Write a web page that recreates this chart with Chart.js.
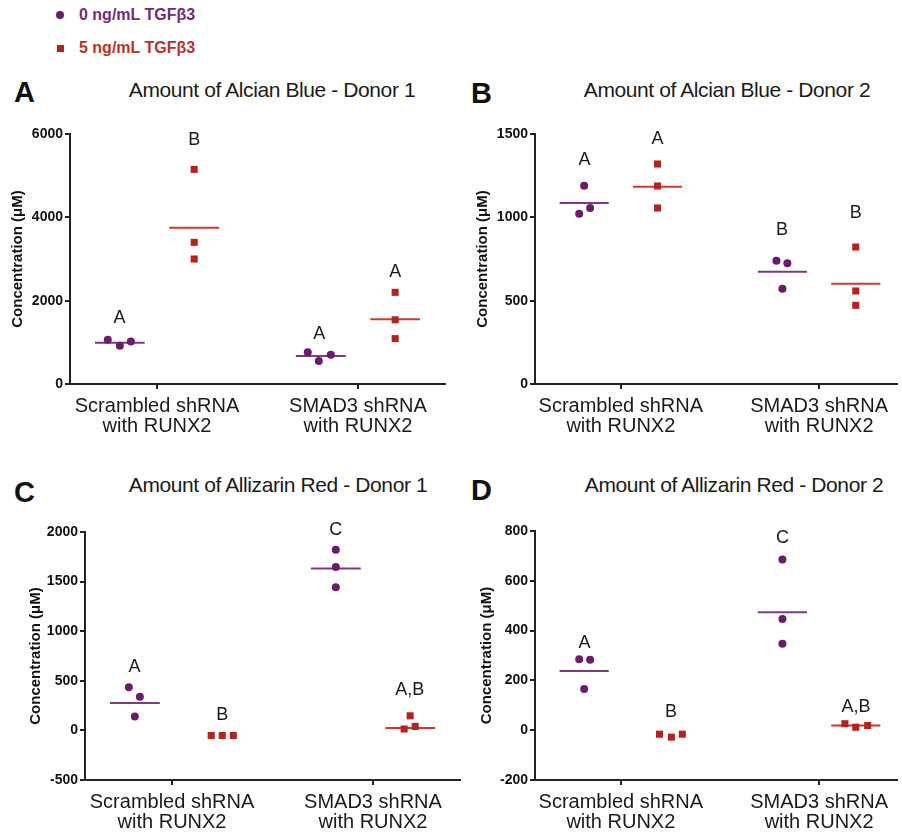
<!DOCTYPE html>
<html>
<head>
<meta charset="utf-8">
<script src="https://cdn.jsdelivr.net/npm/chart.js@4.4.1/dist/chart.umd.min.js"></script>
<style>
  body { margin: 0; width: 902px; height: 835px; position: relative; overflow: hidden; background: #fff; font-family: "Liberation Sans", Arial, sans-serif; }
  canvas { position: absolute; }
  .title { position: absolute; font-size: 21px; color: #1a1a1a; transform: translate(-50%, -50%); white-space: nowrap; letter-spacing: -0.4px; }
  .tag { position: absolute; font-size: 29px; font-weight: bold; color: #111; transform: translateY(-50%); }
  .lg { position: absolute; left: 79px; font-size: 16px; font-weight: bold; transform: translateY(-50%); white-space: nowrap; }
  .mk { position: absolute; }
</style>
</head>
<body>
<div class="mk" style="left:56px;top:11px;width:8px;height:8px;border-radius:50%;background:#6a1b6a"></div>
<div class="lg" style="top:15px;color:#742a74">0 ng/mL TGFβ3</div>
<div class="mk" style="left:57px;top:45px;width:7px;height:7px;background:#b5231e"></div>
<div class="lg" style="top:48px;color:#b8322a">5 ng/mL TGFβ3</div>

<div class="tag" style="left:14px;top:92px">A</div>
<div class="title" style="left:272px;top:90px">Amount of Alcian Blue - Donor 1</div>
<div class="tag" style="left:471px;top:93px">B</div>
<div class="title" style="left:727px;top:90px">Amount of Alcian Blue - Donor 2</div>
<div class="tag" style="left:14px;top:492px">C</div>
<div class="title" style="left:278px;top:485px">Amount of Allizarin Red - Donor 1</div>
<div class="tag" style="left:471px;top:490px">D</div>
<div class="title" style="left:734px;top:485px">Amount of Allizarin Red - Donor 2</div>

<canvas id="cA" width="451" height="390" style="left:0;top:60px"></canvas>
<canvas id="cB" width="451" height="390" style="left:451px;top:60px"></canvas>
<canvas id="cC" width="470" height="375" style="left:0;top:460px"></canvas>
<canvas id="cD" width="451" height="375" style="left:451px;top:460px"></canvas>

<script>
// x categories and series
const categories = [['Scrambled shRNA', 'with RUNX2'], ['SMAD3 shRNA', 'with RUNX2']]
const seriesNames = ['0 ng/mL TGFβ3', '5 ng/mL TGFβ3']

// A - Alcian Blue, donor 1  (per category: 3 replicates)
const alcian1_tgf0 = [[1060, 920, 1020], [760, 550, 700]]
const alcian1_tgf5 = [[5150, 3400, 3000], [2200, 1540, 1090]]
const alcian1_mean0 = [992, 672]
const alcian1_mean5 = [3752, 1552]
const alcian1_letters = ['A', 'B', 'A', 'A']
const alcian1_letterY = [1584, 5856, 1200, 2688]

// B - Alcian Blue, donor 2
const alcian2_tgf0 = [[1190, 1056, 1022], [740, 724, 572]]
const alcian2_tgf5 = [[1320, 1188, 1056], [822, 558, 472]]
const alcian2_mean0 = [1086, 674]
const alcian2_mean5 = [1184, 602]
const alcian2_letters = ['A', 'A', 'B', 'B']
const alcian2_letterY = [1344, 1470, 924, 1026]

// C - Alizarin Red, donor 1 (mean line of the flat red group is hidden behind its squares)
const alizarin1_tgf0 = [[435, 340, 140], [1820, 1648, 1444]]
const alizarin1_tgf5 = [[-52, -52, -52], [147, 14, 40]]
const alizarin1_mean0 = [276, 1631]
const alizarin1_mean5 = [null, 24]
const alizarin1_letters = ['A', 'B', 'C', 'A,B']
const alizarin1_letterY = [641, 158, 2021, 403]

// D - Alizarin Red, donor 2
const alizarin2_tgf0 = [[285, 283, 165], [686, 447, 347]]
const alizarin2_tgf5 = [[-16, -28, -16], [26, 12, 19]]
const alizarin2_mean0 = [238, 474]
const alizarin2_mean5 = [null, 19]
const alizarin2_letters = ['A', 'B', 'C', 'A,B']
const alizarin2_letterY = [351, 72, 773, 95]

// horizontal spread of the replicate dots inside a group (category units)
const spreadA0 = [[-0.06, 0, 0.055], [-0.065, -0.01, 0.05]]
const spreadA5 = [[0, 0, 0], [0, 0, 0]]
const spreadB0 = [[0, 0.03, -0.025], [-0.03, 0.025, 0]]
const spreadB5 = [[0, 0, 0], [0, 0, 0]]
const spreadC0 = [[-0.03, 0.025, 0], [0, 0, 0]]
const spreadC5 = [[0.01, 0.065, 0.12], [0, -0.03, 0.025]]
const spreadD0 = [[-0.025, 0.03, 0], [0, 0, 0]]
const spreadD5 = [[0.01, 0.07, 0.125], [-0.055, 0, 0.06]]

const PURPLE = '#6a1b6a'
const PURPLE_LINE = '#7e3a7e'
const RED = '#b5231e'
const RED_LINE = '#d0392a'
const AXIS = '#222'
const FONT = '"Liberation Sans", Arial, sans-serif'
const GROUP_OFF = 0.185
const HALF_BAR = 0.124

const letterPlugin = {
	id: 'letters',
	afterDatasetsDraw(chart, args, opts) {
		const {ctx, scales: {x, y}} = chart
		ctx.save()
		ctx.font = '18px ' + FONT
		ctx.fillStyle = '#1a1a1a'
		ctx.textAlign = 'center'
		ctx.textBaseline = 'middle'
		opts.labels.forEach((t, i) => {
			ctx.fillText(t, x.getPixelForValue(opts.xs[i]), y.getPixelForValue(opts.ys[i]))
		})
		ctx.restore()
	},
}

function points(vals, spread, off) {
	const out = []
	vals.forEach((grp, c) => grp.forEach((v, k) => out.push({x: c + 1 + off + spread[c][k], y: v})))
	return out
}

function meanLines(means, off, color) {
	const out = []
	means.forEach((m, c) => {
		if (m === null) return
		out.push({
			type: 'line',
			data: [{x: c + 1 + off - HALF_BAR, y: m}, {x: c + 1 + off + HALF_BAR, y: m}],
			borderColor: color,
			borderWidth: 2,
			pointRadius: 0,
			showLine: true,
			order: 2,
		})
	})
	return out
}

function avg(a) { return a.reduce((s, v) => s + v, 0) / a.length }

function makePanel(id, cfg) {
	const letterXs = []
	for (let c = 0; c < 2; c++) {
		letterXs.push(c + 1 - GROUP_OFF + avg(cfg.sp0[c]))
		letterXs.push(c + 1 + GROUP_OFF + avg(cfg.sp5[c]))
	}
	new Chart(document.getElementById(id), {
		type: 'scatter',
		data: {
			datasets: [
				...meanLines(cfg.m0, -GROUP_OFF, PURPLE_LINE),
				...meanLines(cfg.m5, GROUP_OFF, RED_LINE),
				{
					label: seriesNames[0],
					data: points(cfg.v0, cfg.sp0, -GROUP_OFF),
					backgroundColor: PURPLE,
					borderWidth: 0,
					pointStyle: 'circle',
					pointRadius: 4,
					order: 1,
				},
				{
					label: seriesNames[1],
					data: points(cfg.v5, cfg.sp5, GROUP_OFF),
					backgroundColor: RED,
					borderWidth: 0,
					pointStyle: 'rect',
					pointRadius: 5,
					order: 1,
				},
			],
		},
		options: {
			responsive: false,
			animation: false,
			layout: {padding: {top: cfg.padTop, right: cfg.padRight, left: 0, bottom: 0}},
			plugins: {
				legend: {display: false},
				tooltip: {enabled: false},
				letters: {labels: cfg.letters, ys: cfg.letterY, xs: letterXs},
			},
			scales: {
				x: {
					type: 'linear',
					min: 0.567,
					max: cfg.xMax,
					afterBuildTicks: s => { s.ticks = [{value: 1}, {value: 2}] },
					afterFit: s => { s.height = cfg.xh; s.paddingLeft = 0; s.paddingRight = 0 },
					grid: {drawOnChartArea: false, tickLength: 5, color: AXIS, lineWidth: 2},
					border: {color: AXIS, width: 2},
					ticks: {
						autoSkip: false,
						maxRotation: 0,
						padding: 7,
						color: '#1a1a1a',
						font: {family: FONT, size: 20, lineHeight: 1.0},
						callback: v => categories[v - 1],
					},
				},
				y: {
					min: cfg.yMin,
					max: cfg.yMax,
					afterFit: s => { s.width = cfg.yw; s.paddingTop = 0; s.paddingBottom = 0 },
					grid: {drawOnChartArea: false, tickLength: 5, color: AXIS, lineWidth: 2},
					border: {color: AXIS, width: 2},
					ticks: {
						stepSize: cfg.step,
						padding: 2,
						color: '#111',
						font: {family: FONT, size: 14, weight: 'bold'},
						callback: v => String(v),
					},
					title: {
						display: true,
						text: 'Concentration (μM)',
						color: '#111',
						padding: {top: cfg.titlePad, bottom: 0},
						font: {family: FONT, size: 15, weight: 'bold'},
					},
				},
			},
		},
		plugins: [letterPlugin],
	})
}

makePanel('cA', {
	v0: alcian1_tgf0, v5: alcian1_tgf5, m0: alcian1_mean0, m5: alcian1_mean5,
	sp0: spreadA0, sp5: spreadA5, letters: alcian1_letters, letterY: alcian1_letterY,
	yMin: 0, yMax: 6000, step: 2000,
	padTop: 74, padRight: 6, yw: 70, xh: 66, xMax: 2.433, titlePad: 9,
})
makePanel('cB', {
	v0: alcian2_tgf0, v5: alcian2_tgf5, m0: alcian2_mean0, m5: alcian2_mean5,
	sp0: spreadB0, sp5: spreadB5, letters: alcian2_letters, letterY: alcian2_letterY,
	yMin: 0, yMax: 1500, step: 500,
	padTop: 74, padRight: 0, yw: 84, xh: 66, xMax: 2.393, titlePad: 23,
})
makePanel('cC', {
	v0: alizarin1_tgf0, v5: alizarin1_tgf5, m0: alizarin1_mean0, m5: alizarin1_mean5,
	sp0: spreadC0, sp5: spreadC5, letters: alizarin1_letters, letterY: alizarin1_letterY,
	yMin: -500, yMax: 2000, step: 500,
	padTop: 72, padRight: 10, yw: 85, xh: 55, xMax: 2.433, titlePad: 27,
})
makePanel('cD', {
	v0: alizarin2_tgf0, v5: alizarin2_tgf5, m0: alizarin2_mean0, m5: alizarin2_mean5,
	sp0: spreadD0, sp5: spreadD5, letters: alizarin2_letters, letterY: alizarin2_letterY,
	yMin: -200, yMax: 800, step: 200,
	padTop: 71, padRight: 0, yw: 84, xh: 55, xMax: 2.393, titlePad: 27,
})
</script>
</body>
</html>
